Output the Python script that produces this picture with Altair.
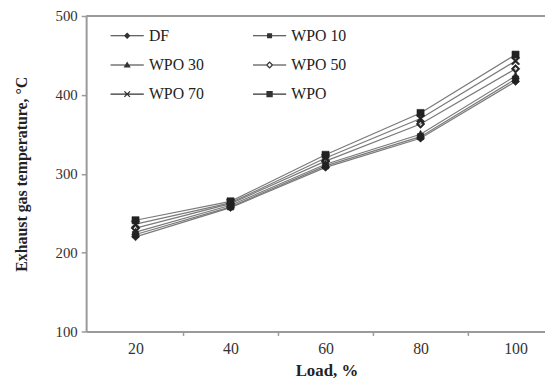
import altair as alt
import pandas as pd

loads = [20, 40, 60, 80, 100]
series = ["DF", "WPO 10", "WPO 30", "WPO 50", "WPO 70", "WPO"]
df_vals = [220, 257, 308, 345, 417]
wpo10_vals = [223, 258, 310, 347, 420]
wpo30_vals = [226, 260, 312, 350, 424]
wpo50_vals = [231, 262, 316, 363, 433]
wpo70_vals = [236, 263, 320, 370, 443]
wpo_vals = [241, 265, 324, 377, 451]

all_vals = [df_vals, wpo10_vals, wpo30_vals, wpo50_vals, wpo70_vals, wpo_vals]
rows = []
for name, vals in zip(series, all_vals):
    for ld, v in zip(loads, vals):
        rows.append({"Load": ld, "Temp": v, "Fuel": name})
data = pd.DataFrame(rows)

# marker shapes (unit = sqrt(size)/2), fill-only geometry
marker_paths = [
    "M0,-1L1,0L0,1L-1,0Z",
    "M-0.8,-0.8H0.8V0.8H-0.8ZM-0.4,-0.4V0.4H0.4V-0.4Z",
    "M0,-1L0.95,0.75H-0.95Z",
    "M0,-1.1L1.1,0L0,1.1L-1.1,0ZM0,-0.55L-0.55,0L0,0.55L0.55,0Z",
    "M-0.75,-1.05L1.05,0.75L0.75,1.05L-1.05,-0.75ZM-1.05,0.75L0.75,-1.05L1.05,-0.75L-0.75,1.05Z",
    "M-0.9,-0.9H0.9V0.9H-0.9Z",
]
# legend symbols: thin line + small marker (unit = 8px at size 256)
LN = "M-2.1,-0.07H2.1V0.07H-2.1Z"
legend_paths = [
    LN + "M0,-0.42L0.42,0L0,0.42L-0.42,0Z",
    LN + "M-0.32,-0.32H0.32V0.32H-0.32Z",
    LN + "M0,-0.42L0.45,0.32H-0.45Z",
    "M-2.1,-0.07H-0.45V0.07H-2.1ZM0.45,-0.07H2.1V0.07H0.45Z"
    "M0,-0.48L0.48,0L0,0.48L-0.48,0ZM0,-0.25L-0.25,0L0,0.25L0.25,0Z",
    LN + "M-0.293,-0.407L0.407,0.293L0.293,0.407L-0.407,-0.293Z"
    "M-0.407,0.293L0.293,-0.407L0.407,-0.293L-0.293,0.407Z",
    LN + "M-0.4,-0.4H0.4V0.4H-0.4Z",
]

FONT = "Liberation Serif"
AX = "#9a9a9a"

x_enc = alt.X(
    "Load:Q",
    scale=alt.Scale(domain=[9.6, 106.2], nice=False, zero=False),
    axis=alt.Axis(
        values=[20, 30, 40, 50, 60, 70, 80, 90, 100],
        labelExpr="datum.value % 20 == 0 ? datum.label : ''",
        tickOpacity={"condition": {"test": "datum.value % 20 == 0", "value": 0}, "value": 1},
        title="Load, %",
        titleFont=FONT, titleFontSize=17, titleFontWeight="bold", titleColor="#222",
        titleX=243, titleY=40, titleBaseline="middle", titleAlign="center",
        labelFont=FONT, labelFontSize=16, labelColor="#333", labelPadding=5,
        tickSize=4, tickColor=AX, tickWidth=1.5,
        domainColor=AX, domainWidth=2, grid=False,
    ),
)
y_enc = alt.Y(
    "Temp:Q",
    scale=alt.Scale(domain=[100, 500], nice=False, zero=False),
    axis=alt.Axis(
        values=[100, 200, 300, 400, 500],
        title="Exhaust gas temperature, °C",
        titleFont=FONT, titleFontSize=16, titleFontWeight="bold", titleColor="#222",
        titleX=-65, titleY=159.5, titleBaseline="middle", titleAlign="center", titleAngle=-90,
        labelFont=FONT, labelFontSize=15, labelColor="#333", labelPadding=4,
        tickSize=5, tickColor=AX, tickWidth=1.5,
        domainColor=AX, domainWidth=2, grid=False,
    ),
)

base = alt.Chart(data)

lines = base.mark_line(color="#7a7a7a", strokeWidth=1.2).encode(
    x=x_enc, y=y_enc, detail="Fuel:N"
)

points = base.mark_point(
    filled=True, fill="#222", stroke="#222", strokeWidth=0.6, opacity=1, size=64
).encode(
    x="Load:Q",
    y="Temp:Q",
    shape=alt.Shape("Fuel:N", scale=alt.Scale(domain=series, range=marker_paths), legend=None),
)

legend_layer = base.transform_filter("datum.Load > 1000").mark_point(
    filled=True, fill="#333", opacity=1
).encode(
    x="Load:Q",
    y="Temp:Q",
    shape=alt.Shape(
        "Fuel:N",
        scale=alt.Scale(domain=series, range=legend_paths),
        legend=alt.Legend(
            title=None, orient="none", legendX=32.5, legendY=11,
            direction="horizontal",
            columns=2, columnPadding=46, rowPadding=12.5,
            symbolSize=256, symbolFillColor="#333", symbolOpacity=1,
            labelOffset=13, labelFont=FONT, labelFontSize=16, labelColor="#222",
            padding=0,
        ),
    ),
)

top_rule = alt.Chart(pd.DataFrame({"t": [500]})).mark_rule(color=AX, strokeWidth=2).encode(
    y=alt.Y("t:Q")
)

chart = (
    alt.layer(lines, points, legend_layer, top_rule)
    .resolve_scale(shape="independent")
    .properties(
        width=464,
        height=319,
        autosize=alt.AutoSizeParams(type="none"),
        padding={"left": 79, "top": 6, "right": 0, "bottom": 47},
    )
    .configure_view(stroke=None)
    .configure(background="white")
)

chart.save("out.html", embed_options={"renderer": "svg", "actions": False})
